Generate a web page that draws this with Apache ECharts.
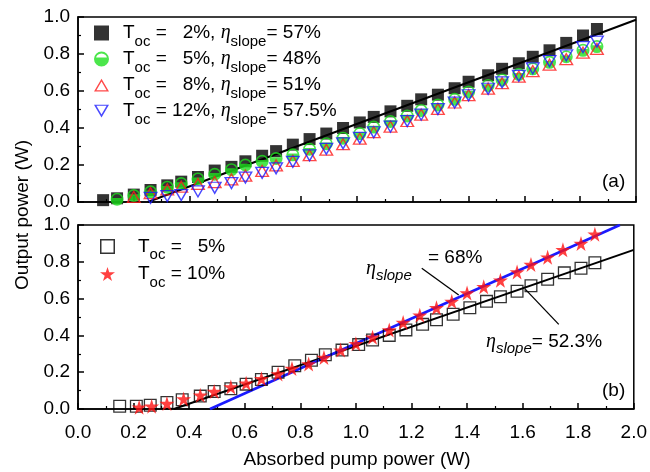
<!DOCTYPE html>
<html><head><meta charset="utf-8">
<script src="https://cdn.jsdelivr.net/npm/echarts@6/dist/echarts.min.js"></script>
<style>html,body{margin:0;padding:0;background:#fff}#c{width:650px;height:472px}</style>
</head><body><div id="c"></div>
<script>
// ---------- Panel (a) data ----------
const xA2  = [0.09,0.14,0.20,0.26,0.32,0.37,0.43,0.49,0.55,0.60,0.66,0.71,0.77,0.83,0.89,0.95,1.01,1.06,1.12,1.18,1.23,1.29,1.35,1.40,1.47,1.52,1.58,1.63,1.69,1.75,1.81,1.86];
const yA2  = [0.01,0.02,0.04,0.065,0.09,0.11,0.135,0.17,0.19,0.22,0.25,0.275,0.31,0.34,0.37,0.40,0.43,0.46,0.49,0.52,0.555,0.58,0.615,0.65,0.685,0.72,0.75,0.785,0.82,0.86,0.90,0.935];
const xA5  = [0.14,0.20,0.26,0.32,0.37,0.43,0.49,0.55,0.60,0.66,0.71,0.77,0.83,0.89,0.95,1.01,1.06,1.12,1.18,1.23,1.29,1.35,1.40,1.47,1.52,1.58,1.63,1.69,1.75,1.81,1.86];
const yA5  = [0.015,0.035,0.055,0.08,0.10,0.125,0.15,0.175,0.20,0.22,0.235,0.255,0.285,0.315,0.345,0.37,0.405,0.435,0.465,0.495,0.525,0.555,0.595,0.63,0.66,0.69,0.72,0.755,0.785,0.82,0.84];
const xA8  = [0.20,0.26,0.32,0.37,0.43,0.49,0.55,0.60,0.66,0.71,0.77,0.83,0.89,0.95,1.01,1.06,1.12,1.18,1.23,1.29,1.35,1.40,1.47,1.52,1.58,1.63,1.69,1.75,1.81,1.86];
const yA8  = [0.03,0.05,0.07,0.085,0.10,0.11,0.125,0.145,0.17,0.20,0.225,0.255,0.285,0.315,0.345,0.38,0.41,0.44,0.475,0.505,0.54,0.58,0.615,0.645,0.68,0.71,0.745,0.775,0.81,0.83];
const xA12 = [0.26,0.32,0.37,0.43,0.49,0.55,0.60,0.66,0.71,0.77,0.83,0.89,0.95,1.01,1.06,1.12,1.18,1.23,1.29,1.35,1.40,1.47,1.52,1.58,1.63,1.69,1.75,1.81,1.86];
const yA12 = [0.02,0.03,0.035,0.055,0.075,0.10,0.13,0.155,0.18,0.215,0.25,0.285,0.315,0.345,0.375,0.405,0.435,0.47,0.50,0.535,0.575,0.61,0.645,0.68,0.72,0.76,0.79,0.835,0.865];
const fitAx = [0.25, 2.0];
const fitAy = [0.0, 0.985];

// ---------- Panel (b) data ----------
const xB5  = [0.15,0.21,0.26,0.32,0.375,0.44,0.49,0.55,0.605,0.66,0.72,0.78,0.84,0.89,0.95,1.01,1.06,1.12,1.18,1.24,1.29,1.35,1.41,1.47,1.52,1.58,1.63,1.69,1.75,1.81,1.86];
const yB5  = [0.015,0.015,0.02,0.035,0.05,0.07,0.095,0.11,0.135,0.16,0.20,0.235,0.265,0.295,0.32,0.35,0.375,0.40,0.43,0.46,0.485,0.515,0.55,0.585,0.61,0.64,0.67,0.705,0.74,0.765,0.795];
const xB10 = [0.22,0.265,0.32,0.38,0.44,0.49,0.55,0.605,0.66,0.72,0.77,0.83,0.885,0.945,1.0,1.06,1.12,1.17,1.23,1.29,1.345,1.40,1.46,1.52,1.58,1.63,1.69,1.745,1.81,1.86];
const yB10 = [0.01,0.015,0.03,0.055,0.075,0.095,0.12,0.14,0.165,0.19,0.22,0.245,0.28,0.32,0.355,0.39,0.43,0.47,0.51,0.55,0.585,0.63,0.665,0.70,0.745,0.785,0.825,0.865,0.90,0.95];
const fitB5x  = [0.345, 2.0];
const fitB5y  = [0.0, 0.865];
const fitB10x = [0.475, 1.95];
const fitB10y = [0.0, 1.0];
const ptr68x  = [1.237, 1.37];
const ptr68y  = [0.765, 0.62];
const ptr52x  = [1.61, 1.73];
const ptr52y  = [0.65, 0.46];

const xTicks = ['0.0','0.2','0.4','0.6','0.8','1.0','1.2','1.4','1.6','1.8','2.0'];

const zip = (xs, ys) => xs.map((x, i) => [x, ys[i]]);

const FONT = 'Liberation Sans';
const rich = {
  t: {fontSize: 19, fontFamily: FONT, color: '#000'},
  s: {fontSize: 15, fontFamily: FONT, color: '#000', padding: [17, 0, 0, 0]},
  e: {fontSize: 20, fontFamily: 'Liberation Serif', fontStyle: 'italic', color: '#000'}
};
const legendText = {
  'T2':  '{t|T}{s|oc}{t| =   2%, }{e|η}{s|slope}{t|= 57%}',
  'T5':  '{t|T}{s|oc}{t| =   5%, }{e|η}{s|slope}{t|= 48%}',
  'T8':  '{t|T}{s|oc}{t| =   8%, }{e|η}{s|slope}{t|= 51%}',
  'T12': '{t|T}{s|oc}{t| = 12%, }{e|η}{s|slope}{t|= 57.5%}',
  'B5':  '{t|T}{s|oc}{t| =   5%}',
  'B10': '{t|T}{s|oc}{t| = 10%}'
};

const GREEN_SYM = 'path://M10,0 A10,10 0 1,1 10,20 A10,10 0 1,1 10,0 Z M10,2.5 A7.5,7.5 0 1,0 10,17.5 A7.5,7.5 0 1,0 10,2.5 Z M2.77,8 L17.23,8 A7.5,7.5 0 1,1 2.77,8 Z';
const DOWN_TRI = 'path://M0,0 L20,0 L10,17 Z M3.2,1.6 L10,13.2 L16.8,1.6 Z';
const UP_TRI = 'path://M10,0 L20,17 L0,17 Z M10,3.8 L3.2,15.4 L16.8,15.4 Z';
const OPEN_SQ = 'path://M0,0 L20,0 L20,20 L0,20 Z M2,2 L2,18 L18,18 L18,2 Z';
const STAR = 'path://M50,0 L61,35 L98,35 L68,57 L79,91 L50,70 L21,91 L32,57 L2,35 L39,35 Z';

function xAx(i, labels) {
  return {
    type: 'value', gridIndex: i, min: 0, max: 2, interval: 0.2,
    axisLine: {show: true, onZero: false, lineStyle: {color: '#000', width: 1.5}},
    axisTick: {show: true, inside: true, length: 6, lineStyle: {color: '#000', width: 1.5}},
    minorTick: {show: true, splitNumber: 2, length: 3, lineStyle: {color: '#000', width: 1.2}},
    splitLine: {show: false}, minorSplitLine: {show: false},
    axisLabel: {show: labels, fontSize: 19, fontFamily: FONT, color: '#000', margin: 14,
      formatter: (v) => xTicks[Math.round(v / 0.2)]}
  };
}
function yAx(i) {
  return {
    type: 'value', gridIndex: i, min: 0, max: 1, interval: 0.2,
    axisLine: {show: true, onZero: false, lineStyle: {color: '#000', width: 1.5}},
    axisTick: {show: true, inside: true, length: 6, lineStyle: {color: '#000', width: 1.5}},
    minorTick: {show: true, splitNumber: 2, length: 3, lineStyle: {color: '#000', width: 1.2}},
    splitLine: {show: false}, minorSplitLine: {show: false},
    axisLabel: {fontSize: 19, fontFamily: FONT, color: '#000', margin: 8,
      formatter: (v) => v.toFixed(1)}
  };
}
function scat(name, xi, data, symbol, size, style, z) {
  return {name, type: 'scatter', xAxisIndex: xi, yAxisIndex: xi, data, symbol, symbolSize: size,
    itemStyle: style, z: z, silent: true, animation: false};
}
function ln(xs, ys, gi, color, width, z) {
  return {type: 'line', xAxisIndex: gi, yAxisIndex: gi, data: zip(xs, ys), symbol: 'none',
    lineStyle: {color, width}, z: z, silent: true, animation: false};
}

const chart = echarts.init(document.getElementById('c'), null, {renderer: 'canvas'});
chart.setOption({
  backgroundColor: '#fff',
  animation: false,
  grid: [
    {left: 78, top: 17, width: 558, height: 185, show: true, borderColor: '#000', borderWidth: 1.5, backgroundColor: 'transparent'},
    {left: 78, top: 225, width: 558, height: 184, show: true, borderColor: '#000', borderWidth: 1.5, backgroundColor: 'transparent'}
  ],
  xAxis: [xAx(0, false), xAx(1, true)],
  yAxis: [yAx(0), yAx(1)],
  legend: [
    {data: ['T2','T5','T8','T12'], orient: 'vertical', left: 89, top: 18, itemGap: 0,
     itemWidth: 15, itemHeight: 15, selectedMode: false,
     formatter: (n) => legendText[n], textStyle: {rich: rich, padding: [0,0,0,9]}},
    {data: ['B5','B10'], orient: 'vertical', left: 95, top: 232, itemGap: 2,
     itemWidth: 15, itemHeight: 15, selectedMode: false,
     formatter: (n) => legendText[n], textStyle: {rich: rich, padding: [0,0,0,18]}}
  ],
  series: [
    ln(fitAx, fitAy, 0, '#000', 2, 2),
    scat('T2', 0, zip(xA2, yA2), 'rect', 12, {color: '#000'}, 3),
    scat('T5', 0, zip(xA5, yA5), GREEN_SYM, 13, {color: '#1ee01e'}, 4),
    scat('T8', 0, zip(xA8, yA8), UP_TRI, [15, 13], {color: '#ff1a1a'}, 5),
    scat('T12', 0, zip(xA12, yA12), DOWN_TRI, [15, 13], {color: '#1a1aff'}, 6),
    ln(fitB5x, fitB5y, 1, '#000', 2, 2),
    ln(fitB10x, fitB10y, 1, '#1a1aff', 2.5, 2),
    ln(ptr68x, ptr68y, 1, '#000', 1.3, 2),
    ln(ptr52x, ptr52y, 1, '#000', 1.3, 2),
    scat('B5', 1, zip(xB5, yB5), OPEN_SQ, 13, {color: '#000'}, 3),
    scat('B10', 1, zip(xB10, yB10), STAR, 15, {color: '#ff1010'}, 4)
  ],
  graphic: [
    {type: 'text', left: 13, top: 140, rotation: Math.PI / 2,
     style: {text: 'Output power (W)', fontSize: 19, fontFamily: FONT, fill: '#000'}},
    {type: 'text', x: 357, y: 450, style: {text: 'Absorbed pump power (W)', fontSize: 19, fontFamily: FONT, fill: '#000', align: 'center'}},
    {type: 'text', x: 602, y: 172, style: {text: '(a)', fontSize: 19, fontFamily: FONT, fill: '#000'}},
    {type: 'text', x: 602, y: 381, style: {text: '(b)', fontSize: 19, fontFamily: FONT, fill: '#000'}},
    {type: 'text', x: 366, y: 254, style: {text: '{e|η}{s|slope}', rich: {
      e: {fontSize: 20, fontFamily: 'Liberation Serif', fontStyle: 'italic', fill: '#000'},
      s: {fontSize: 15, fontFamily: FONT, fontStyle: 'italic', fill: '#000', padding: [14,0,0,0]}}}},
    {type: 'text', x: 428, y: 248, style: {text: '= 68%', fontSize: 19, fontFamily: FONT, fill: '#000'}},
    {type: 'text', x: 486, y: 327, style: {text: '{e|η}{s|slope}{t|= 52.3%}', rich: {
      e: {fontSize: 20, fontFamily: 'Liberation Serif', fontStyle: 'italic', fill: '#000'},
      s: {fontSize: 15, fontFamily: FONT, fontStyle: 'italic', fill: '#000', padding: [14,0,0,0]},
      t: {fontSize: 19, fontFamily: FONT, fill: '#000'}}}}
  ]
});
</script>
</body></html>
